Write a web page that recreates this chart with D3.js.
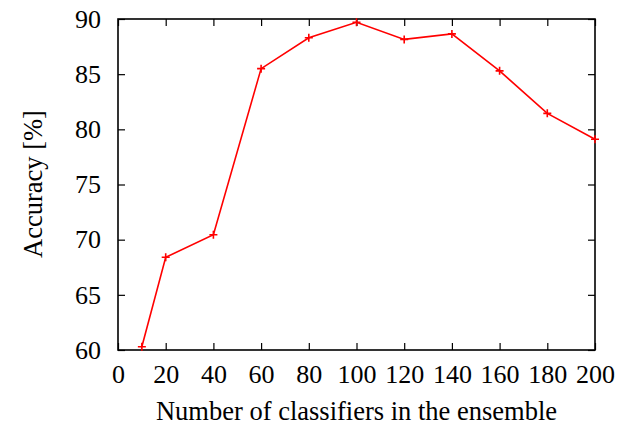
<!DOCTYPE html>
<html>
<head>
<meta charset="utf-8">
<script src="https://cdn.jsdelivr.net/npm/d3@7"></script>
<style>
  body { margin: 0; background: #fff; }
</style>
</head>
<body>
<div class="chart"></div>
<script>
var ensembleSizes = [10, 20, 40, 60, 80, 100, 120, 140, 160, 180, 200];
var accuracy = [60.3, 68.4, 70.45, 85.5, 88.3, 89.7, 88.15, 88.65, 85.3, 81.45, 79.1];
var xTicks = [0, 20, 40, 60, 80, 100, 120, 140, 160, 180, 200];
var yTicks = [60, 65, 70, 75, 80, 85, 90];

var fontFamily = "Liberation Serif";
var fontSize = "26px";

var svgWidth = 628;
var svgHeight = 428;
var margin = { top: 19, right: 33, bottom: 78, left: 118 };
var width = svgWidth - margin.left - margin.right;
var height = svgHeight - margin.top - margin.bottom;

var svg = d3.select(".chart")
  .append("svg")
  .attr("width", svgWidth)
  .attr("height", svgHeight)
  .style("font-family", fontFamily);

var chart = svg.append("g")
  .attr("transform", "translate(" + margin.left + "," + margin.top + ")");

var xScale = d3.scaleLinear().domain([0, 200]).range([0, width]);
var yScale = d3.scaleLinear().domain([60, 90]).range([height, 0]);

// inward ticks on all four sides, gnuplot style
var tickLen = 7;
var bottomAxis = d3.axisBottom(xScale).tickValues(xTicks).tickSize(-tickLen).tickPadding(15);
var topAxis = d3.axisTop(xScale).tickValues(xTicks).tickSize(-tickLen).tickFormat("");
var leftAxis = d3.axisLeft(yScale).tickValues(yTicks).tickSize(-tickLen).tickPadding(17);
var rightAxis = d3.axisRight(yScale).tickValues(yTicks).tickSize(-tickLen).tickFormat("");

function styleAxis(g) {
  g.attr("font-family", null).attr("font-size", null);
  g.select(".domain").remove();
  g.selectAll(".tick line").attr("stroke", "#000").attr("stroke-width", 1.2);
  g.selectAll(".tick text")
    .attr("fill", "#000")
    .style("font-family", fontFamily)
    .style("font-size", fontSize);
}

chart.append("g").attr("transform", "translate(0," + height + ")").call(bottomAxis).call(styleAxis);
chart.append("g").call(topAxis).call(styleAxis);
chart.append("g").call(leftAxis).call(styleAxis);
chart.append("g").attr("transform", "translate(" + width + ",0)").call(rightAxis).call(styleAxis);

chart.append("rect")
  .attr("width", width)
  .attr("height", height)
  .attr("fill", "none")
  .attr("stroke", "#000")
  .attr("stroke-width", 1.6);

var points = ensembleSizes.map(function(d, i) { return { x: d, y: accuracy[i] }; });

var line = d3.line()
  .x(function(d) { return xScale(d.x); })
  .y(function(d) { return yScale(d.y); });

chart.append("path")
  .datum(points)
  .attr("d", line)
  .attr("fill", "none")
  .attr("stroke", "#ff0000")
  .attr("stroke-width", 1.6);

chart.selectAll(".marker")
  .data(points)
  .enter().append("path")
    .attr("class", "marker")
    .attr("transform", function(d) { return "translate(" + xScale(d.x) + "," + yScale(d.y) + ")"; })
    .attr("d", "M-4,0H4M0,-4V4")
    .attr("stroke", "#ff0000")
    .attr("stroke-width", 1.6);

svg.append("text")
  .attr("transform", "rotate(-90)")
  .attr("x", -184)
  .attr("y", 42)
  .attr("text-anchor", "middle")
  .style("font-family", fontFamily)
  .style("font-size", "26.5px")
  .text("Accuracy [%]");

svg.append("text")
  .attr("x", margin.left + width / 2)
  .attr("y", 420)
  .attr("text-anchor", "middle")
  .style("font-family", fontFamily)
  .style("font-size", "26.5px")
  .text("Number of classifiers in the ensemble");
</script>
</body>
</html>
